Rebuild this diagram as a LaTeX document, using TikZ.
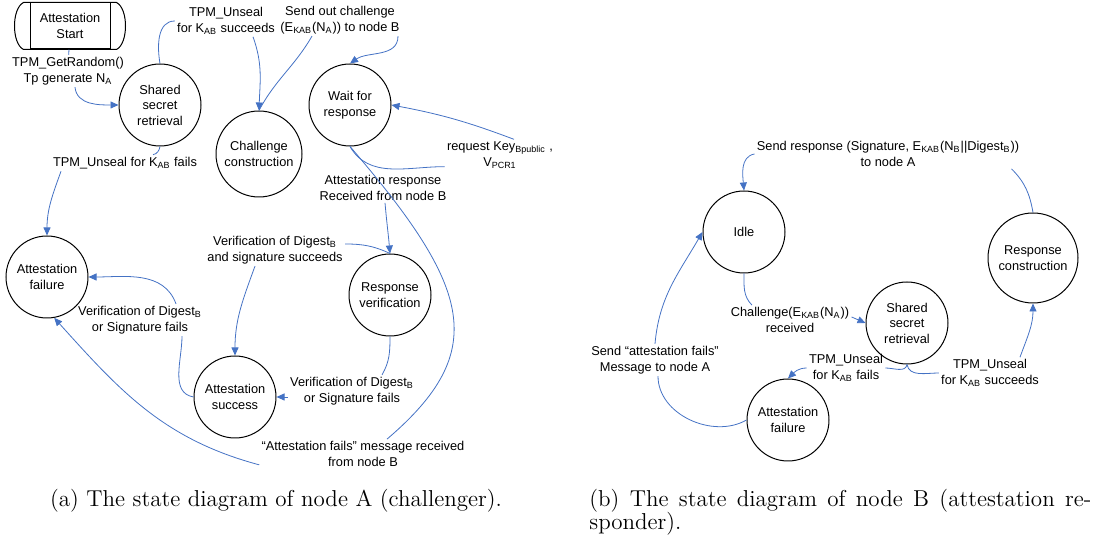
\documentclass[tikz,border=0pt]{standalone}
\usepackage{fontspec}
\newfontfamily\arial{Liberation Sans}
\usetikzlibrary{arrows.meta}
\definecolor{linkblue}{RGB}{68,114,196}

\begin{document}
\begin{tikzpicture}[
    x=0.5pt, y=0.5pt,
    circ/.style={circle, draw, line width=0.5pt, inner sep=0pt, minimum size=41pt, align=center, font=\arial\fontsize{6.4}{7.75}\selectfont},
    lbl/.style={inner sep=1pt, align=center, font=\arial\fontsize{6.4}{7.75}\selectfont},
    tr/.style={draw=linkblue, line width=0.4pt},
    trarr/.style={tr, -{Triangle[length=4pt,width=3.5pt]}},
    captxt/.style={inner sep=0pt, font=\fontsize{11.5}{13}\selectfont}
    ]
\useasboundingbox (0,0) rectangle (1098,545);

%Node A, states
\node[draw, line width=0.5pt, minimum width=40pt, minimum height=23pt, inner sep=0pt, align=center, font=\arial\fontsize{6.4}{7.75}\selectfont] (start) at (70,519) {Attestation\\Start};
\draw[line width=0.5pt] ([xshift=-3pt]start.north west) -- ([xshift=3pt]start.north east)
    .. controls +(6pt,-3pt) and +(6pt,3pt) .. ([xshift=3pt]start.south east)
    -- ([xshift=-3pt]start.south west)
    .. controls +(-6pt,3pt) and +(-6pt,-3pt) .. cycle;
\node[circ] (ssA) at (160,440) {Shared\\secret\\retrieval};
\node[circ, minimum size=43pt] (chal) at (259,391) {Challenge\\construction};
\node[circ] (wait) at (350,440) {Wait for\\response};
\node[circ] (respver) at (390,250) {Response\\verification};
\node[circ] (success) at (235,148) {Attestation\\success};
\node[circ] (failA) at (47,268) {Attestation\\failure};

%Node A, labels
\node[lbl] (l_rand) at (68,474) {TPM\_GetRandom()\\Tp generate N\textsubscript{A}};
\node[lbl] (l_uok) at (226,524) {TPM\_Unseal\\for K\textsubscript{AB} succeeds};
\node[lbl] (l_ufail) at (125,382) {TPM\_Unseal for K\textsubscript{AB} fails};
\node[lbl] (l_send) at (340,525) {Send out challenge\\(E\textsubscript{KAB}(N\textsubscript{A})) to node B};
\node[lbl] (l_req) at (500,390) {request Key\textsubscript{Bpublic} ,\\V\textsubscript{PCR1}};
\node[lbl] (l_attresp) at (383,357) {Attestation response\\Received from node B};
\node[lbl] (l_verok) at (275,295) {Verification of Digest\textsubscript{B}\\and signature succeeds};
\node[lbl] (l_verfail1) at (352,154) {Verification of Digest\textsubscript{B}\\or Signature fails};
\node[lbl] (l_verfail2) at (140,225) {Verification of Digest\textsubscript{B}\\or Signature fails};
\node[lbl] (l_attfails) at (363,91) {“Attestation fails” message received\\from node B};

%Node A, transitions
\draw[tr] (start) -- (l_rand);
\draw[trarr] ([xshift=3.5pt]l_rand.south) to[out=-85,in=180] (ssA.west);
\draw[tr] (ssA.north) to[out=100,in=180] (l_uok.west);
\draw[trarr] ([xshift=13.5pt]l_uok.south) to[out=-70,in=88] (chal.north);
\draw[tr] (chal.north) to[out=62,in=-120] ([xshift=-14pt]l_send.south);
\draw[trarr] ([xshift=29pt]l_send.south) to[out=-90,in=35] (wait.north);
\draw[tr] (wait.south) to[out=-60,in=180] ([yshift=2pt]l_req.south west);
\draw[trarr] ([xshift=7pt]l_req.north) to[bend right=5] (wait.east);
\draw[tr] (wait.south) .. controls +(122,-142) and +(103,88) .. ([xshift=12pt]l_attfails.north);
\draw[trarr] ([yshift=2pt]l_attfails.south west) to[out=165,in=-48] (failA.-80);
\draw[trarr] ([xshift=1pt]l_attresp.south) to[out=-85,in=95] (respver.north);
\draw[tr] (respver.north) to[out=155,in=0] ([yshift=3pt]l_verok.east);
\draw[trarr] ([xshift=-10pt]l_verok.south) to[out=-110,in=90] (success.north);
\draw[tr] (respver.south) to[out=-90,in=60] ([xshift=15pt]l_verfail1.north);
\draw[trarr] ([yshift=-3pt]l_verfail1.west) -- (success.east);
\draw[tr] (success.west) to[out=170,in=-90] ([xshift=21pt]l_verfail2.south);
\draw[trarr] ([xshift=18pt]l_verfail2.north) to[out=110,in=0] (failA.east);
\draw[tr] (ssA.south) to[out=-100,in=10] ([xshift=14pt]l_ufail.north);
\draw[trarr] ([xshift=-32pt]l_ufail.south) to[out=-110,in=90] (failA.north);

%Node B, states
\node[circ] (idle) at (744,313) {Idle};
\node[circ, minimum size=45pt] (respcon) at (1033,287) {Response\\construction};
\node[circ] (ssB) at (907,222) {Shared\\secret\\retrieval};
\node[circ] (failB) at (788,125) {Attestation\\failure};

%Node B, labels
\node[lbl] (l_sendresp) at (888,391) {Send response (Signature, E\textsubscript{KAB}(N\textsubscript{B}||Digest\textsubscript{B}))\\to node A};
\node[lbl] (l_chal) at (790,225) {Challenge(E\textsubscript{KAB}(N\textsubscript{A}))\\received};
\node[lbl] (l_ufailB) at (846,177) {TPM\_Unseal\\for K\textsubscript{AB} fails};
\node[lbl] (l_uokB) at (990,172) {TPM\_Unseal\\for K\textsubscript{AB} succeeds};
\node[lbl] (l_sendfail) at (655,185) {Send “attestation fails”\\Message to node A};

%Node B, transitions
\draw[tr] (respcon.north) to[out=100,in=-45] ([xshift=-5pt]l_sendresp.south east);
\draw[trarr] (l_sendresp.west) to[out=190,in=95] (idle.north);
\draw[tr] (idle.south) to[out=-90,in=135] ([xshift=-19pt]l_chal.north);
\draw[trarr] ([yshift=1.5pt]l_chal.east) -- (ssB.west);
\draw[tr] (ssB.south) to[out=-100,in=0] (l_ufailB.east);
\draw[trarr] (l_ufailB.west) to[out=180,in=45] (failB.north);
\draw[tr] (ssB.south) to[out=-80,in=180] (l_uokB.west);
\draw[trarr] ([xshift=15pt]l_uokB.north) to[out=70,in=-90] (respcon.south);
\draw[tr] (failB.west) to[out=210,in=-90] ([xshift=1.5pt]l_sendfail.south);
\draw[trarr] (l_sendfail.north) to[out=85,in=-120] (idle.west);

%captions
\node[captxt] (cap_a) at (276,44) {(a) The state diagram of node A (challenger).};
\node[captxt, anchor=west] (cap_b1) at (589,44) {\hbox to 251pt{(b) The state diagram of node B (attestation re-}};
\node[captxt, anchor=west] (cap_b2) at (589,21) {sponder).};
\end{tikzpicture}
\end{document}
